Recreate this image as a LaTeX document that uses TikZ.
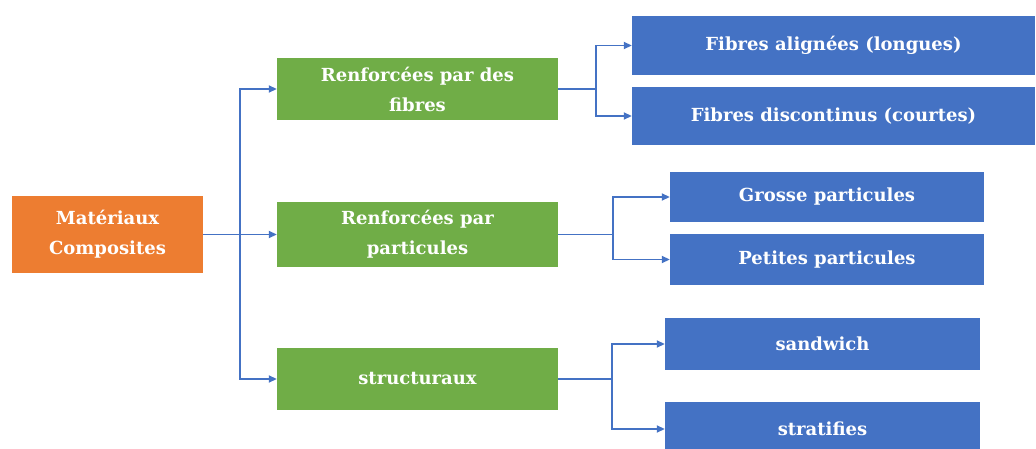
\documentclass[tikz,border=0pt]{standalone}
\usepackage{fontspec}
\newfontfamily\boxfont{DejaVu Serif}
\usetikzlibrary{arrows.meta,calc}

\definecolor{boxorange}{HTML}{ED7D31}
\definecolor{boxgreen}{HTML}{70AD47}
\definecolor{boxblue}{HTML}{4472C4}
\definecolor{linkblue}{HTML}{4472C4}

\tikzset{
  box/.style={rectangle, inner sep=0pt, text=white, align=center,
    font=\boxfont\bfseries\fontsize{18}{30}\selectfont},
  rootbox/.style={box, fill=boxorange},
  midbox/.style={box, fill=boxgreen},
  leafbox/.style={box, fill=boxblue},
  link/.style={draw=linkblue, line width=1.8pt,
    -{Triangle[length=8pt,width=7pt]}},
  plain/.style={draw=linkblue, line width=1.8pt},
}

\begin{document}
\begin{tikzpicture}[x=1pt,y=-1pt]
  \useasboundingbox (0,0) rectangle (1036,449);
  \clip (0,0) rectangle (1036,449);
  \fill[white] (0,0) rectangle (1036,449);

  % root
  \node[rootbox, minimum width=191pt, minimum height=77pt] (root) at (107.5,234.5)
    {Matériaux\\Composites};

  % middle level
  \node[midbox, minimum width=281pt, minimum height=62pt] (fib) at (417.5,89)
    {Renforcées par des\\fibres};
  \node[midbox, minimum width=281pt, minimum height=64pt] (par) at (417.5,234.5)
    {Renforcées par\\particules};
  \node[midbox, minimum width=281pt, minimum height=62pt] (str) at (417.5,379)
    {structuraux};

  % leaves
  \node[leafbox, minimum width=403pt, minimum height=59pt] (fa) at (833.5,45.5)
    {Fibres alignées (longues)};
  \node[leafbox, minimum width=403pt, minimum height=58pt] (fd) at (833.5,116)
    {Fibres discontinus (courtes)};
  \node[leafbox, minimum width=314pt, minimum height=50pt] (gp) at (827,197)
    {Grosse particules};
  \node[leafbox, minimum width=314pt, minimum height=51pt] (pp) at (827,259.5)
    {Petites particules};
  \node[leafbox, minimum width=315pt, minimum height=52pt] (sw) at (822.5,344)
    {sandwich};
  \node[leafbox, minimum width=315pt, minimum height=54pt] (st) at (822.5,429)
    {stratifies};

  % junction points
  \coordinate (trunk) at ($(root.east)+(37,0)$);
  \coordinate (forkA) at ($(fib.east)+(38,0)$);
  \coordinate (forkB) at ($(par.east)+(55,0)$);
  \coordinate (forkC) at ($(str.east)+(54,0)$);

  % root to middle level
  \draw[link] (root.east) -- (par.west);
  \draw[link] (trunk) |- (fib.west);
  \draw[link] (trunk) |- (str.west);

  % middle level to leaves
  \draw[plain] (fib.east) -- (forkA);
  \draw[link] (forkA) |- (fa.west);
  \draw[link] (forkA) |- (fd.west);

  \draw[plain] (par.east) -- (forkB);
  \draw[link] (forkB) |- (gp.west);
  \draw[link] (forkB) |- (pp.west);

  \draw[plain] (str.east) -- (forkC);
  \draw[link] (forkC) |- (sw.west);
  \draw[link] (forkC) |- (st.west);
\end{tikzpicture}
\end{document}
